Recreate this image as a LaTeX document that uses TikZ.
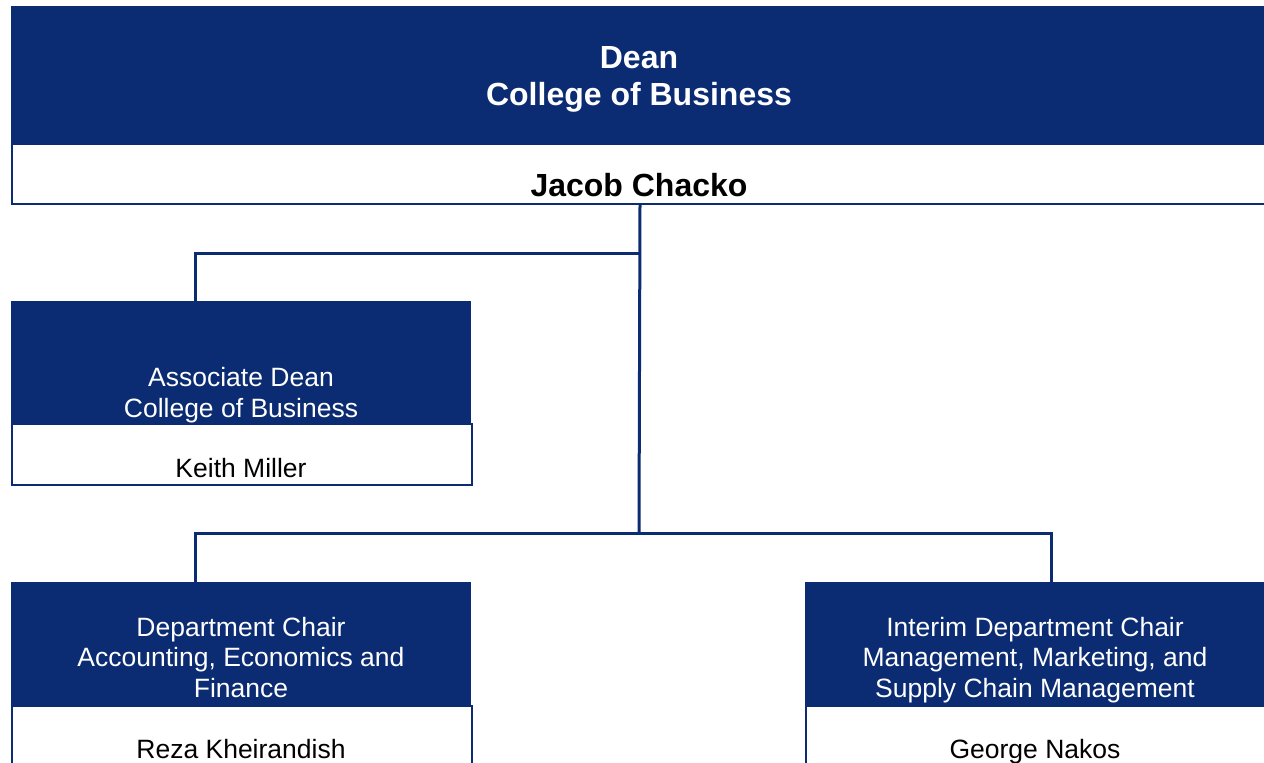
\documentclass[tikz,border=0pt]{standalone}
\usepackage{fontspec}
\setmainfont{Liberation Sans}
\usetikzlibrary{calc}
\definecolor{navy}{RGB}{11,43,114}
\def\hdrbox{\node[fill=navy,inner sep=0pt,anchor=north west]}
\def\namebox{\node[draw=navy,line width=2pt,fill=white,inner sep=0pt,anchor=north west]}
\tikzset{
  title/.style={text=white,align=center,inner sep=0pt,font=\fontsize{26.5}{30.5}\selectfont},
  person/.style={text=black,inner sep=0pt,font=\fontsize{26.5}{30.5}\selectfont},
  link/.style={draw=navy,line width=3pt}
}
\begin{document}
\begin{tikzpicture}[x=1pt,y=-1pt]
\useasboundingbox (0,0) rectangle (1264,763);
\clip (0,0) rectangle (1264,763);

% ---------- the dean on top
\namebox[minimum width=1256pt,minimum height=60pt] (dean) at (11,143) {};
\hdrbox[minimum width=1256pt,minimum height=137pt] (deanhd) at (11,6) {};
\node[title,font=\bfseries\fontsize{32}{37}\selectfont] (deantitle) at (639,79) {Dean\\College of Business};
\node[person,font=\bfseries\fontsize{32}{37}\selectfont] (deanname) at (639,185) {Jacob Chacko};

% ---------- associate dean
\namebox[minimum width=460pt,minimum height=61pt] (assoc) at (11,423) {};
\hdrbox[minimum width=460pt,minimum height=122pt] (assochd) at (11,301) {};
\node[title] (assoctitle) at (241,395) {Associate Dean\\College of Business};
\node[person] (assocname) at (241,468) {Keith Miller};

% ---------- department chairs
\namebox[minimum width=460pt,minimum height=80pt] (aef) at (11,705) {};
\hdrbox[minimum width=460pt,minimum height=123pt] (aefhd) at (11,582) {};
\node[title] (aeftitle) at (241,657.5) {Department Chair\\Accounting, Economics and\\Finance};
\node[person] (aefname) at (241,749) {Reza Kheirandish};

\namebox[minimum width=460pt,minimum height=80pt] (mms) at (805,705) {};
\hdrbox[minimum width=460pt,minimum height=123pt] (mmshd) at (805,582) {};
\node[title] (mmstitle) at (1035,660) {Interim Department Chair\\Management, Marketing, and\\Supply Chain Management};
\node[person] (mmsname) at (1035,752) {George Nakos};

% ---------- connectors
\coordinate (upper) at (639,253); % branch to the associate dean
\coordinate (lower) at (639,533); % branch to the chairs
\coordinate (associn) at ($ (assochd.north west) + (184,0) $);
\coordinate (aefin) at ($ (aefhd.north west) + (184,0) $);
\coordinate (mmsin) at ($ (mmshd.north west) + (246,0) $);
\draw[link] (dean.south) -- (lower);
\draw[link] (upper) -| (associn);
\draw[link] (lower) -| (aefin);
\draw[link] (lower) -| (mmsin);
\end{tikzpicture}
\end{document}
